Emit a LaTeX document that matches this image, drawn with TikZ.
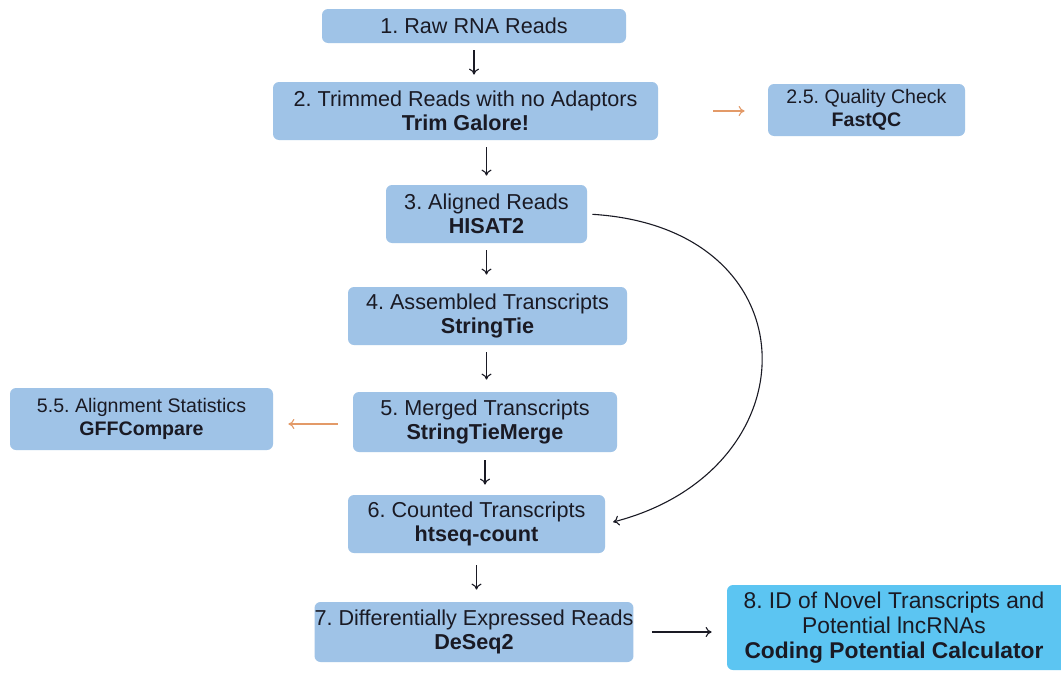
\documentclass[tikz,border=0pt]{standalone}
\usepackage{fontspec}
\setmainfont{Liberation Sans}
\usetikzlibrary{arrows.meta}
\definecolor{boxblue}{HTML}{9FC3E7}
\definecolor{calcblue}{HTML}{5CC5F2}
\definecolor{qcorange}{HTML}{E39A68}
\definecolor{inkblack}{HTML}{1A1A24}
\frenchspacing
\begin{document}
\begin{tikzpicture}[x=0.5pt,y=-0.5pt,
    stage/.style={fill=boxblue,rounded corners=3pt,align=center,text=inkblack,inner sep=0pt,
        font=\fontsize{10.8}{12.2}\selectfont},
    side/.style={stage,font=\fontsize{9.8}{11.6}\selectfont},
    flow/.style={-{To[length=3pt,width=5pt]},line width=0.55pt,draw=inkblack},
    qc/.style={flow,draw=qcorange}]
                \path[use as bounding box,fill=white] (0,0) rectangle (1061,680);
                \clip (0,0) rectangle (1061,680);
                % pipeline boxes
                \node[stage,minimum width=152pt,minimum height=17pt] (raw) at (474,26) {1. Raw RNA Reads};
                \node[stage,minimum width=192.5pt,minimum height=29pt] (trim) at (465.5,111) {2. Trimmed Reads with no Adaptors\\\textbf{Trim Galore!}};
                \node[side,minimum width=98.5pt,minimum height=26pt] (fastqc) at (866.5,110) {2.5. Quality Check\\\textbf{FastQC}};
                \node[stage,minimum width=100.5pt,minimum height=29pt] (hisat) at (486.5,214) {3. Aligned Reads\\\textbf{HISAT2}};
                \node[stage,minimum width=139.5pt,minimum height=29pt] (tie) at (487.5,316) {4. Assembled Transcripts\\\textbf{StringTie}};
                \node[stage,minimum width=132pt,minimum height=30pt] (merge) at (485,422) {5. Merged Transcripts\\\textbf{StringTieMerge}};
                \node[side,minimum width=131.5pt,minimum height=31pt] (gff) at (141.5,419) {5.5. Alignment Statistics\\\textbf{GFFCompare}};
                \node[stage,minimum width=128.5pt,minimum height=29pt] (count) at (476.5,524) {6. Counted Transcripts\\\textbf{htseq-count}};
                \node[stage,minimum width=148pt,minimum height=30pt] (deseq) at (474,632) {7. Differentially Expressed Reads\\\textbf{DeSeq2}};
                % last box runs off the right edge
                \fill[calcblue,rounded corners=3pt] (727,585) rectangle (1080,670);
                \node[stage,fill=none,minimum width=167pt,minimum height=42.5pt,font=\fontsize{11.4}{12.6}\selectfont] (cpc) at (894,627.5) {8. ID of Novel Transcripts and\\Potential lncRNAs\\\textbf{Coding Potential Calculator}};
                % arrows
                \draw[flow,shorten <=3.5pt,shorten >=3.5pt] (raw.south) -- (raw.south |- trim.north);
                \draw[flow,shorten <=3.5pt,shorten >=4.5pt] (hisat.north |- trim.south) -- (hisat.north);
                \draw[flow,shorten <=3.5pt,shorten >=6pt] (hisat.south) -- (hisat.south |- tie.north);
                \draw[flow,shorten <=3.5pt,shorten >=6pt] (hisat.south |- tie.south) -- (hisat.south |- merge.north);
                \draw[flow,shorten <=4pt,shorten >=5pt] (merge.south) -- (merge.south |- count.north);
                \draw[flow,shorten <=6pt,shorten >=6pt] (count.south) -- (count.south |- deseq.north);
                \draw[flow,shorten <=9pt,shorten >=7.5pt] (deseq.east) -- (deseq.east -| cpc.west);
                \draw[qc,shorten <=27.5pt,shorten >=11.5pt] (trim.east) -- (trim.east -| fastqc.west);
                \draw[qc,shorten <=7.5pt,shorten >=7.5pt] (merge.west |- 0,424) -- (gff.east |- 0,424);
                \draw[flow,shorten <=2.5pt,shorten >=4pt] (hisat.east) .. controls (815,228) and (815,470) .. (count.east);
            \end{tikzpicture}
\end{document}
